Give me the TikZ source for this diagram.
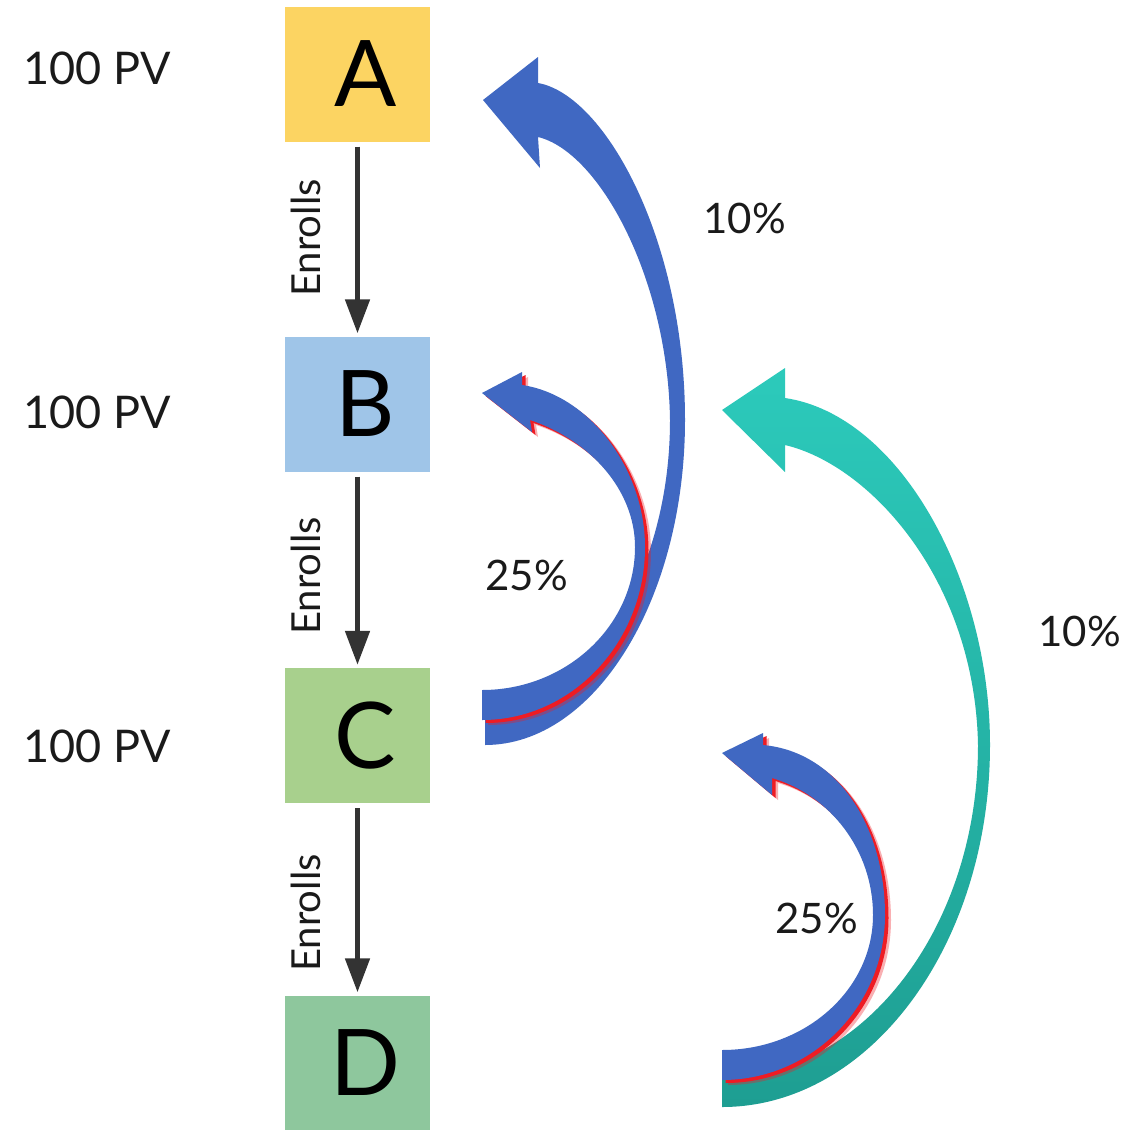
\documentclass[tikz,border=0pt]{standalone}
\usepackage{fontspec}
\setmainfont{Lato}
\usetikzlibrary{arrows.meta}
\definecolor{boxA}{HTML}{FCD462}
\definecolor{boxB}{HTML}{9FC5E8}
\definecolor{boxC}{HTML}{A8D08D}
\definecolor{boxD}{HTML}{8EC79D}
\definecolor{arrblue}{HTML}{4068C2}
\definecolor{arrred}{HTML}{EE1C24}
\definecolor{tealA}{HTML}{2CCABB}
\definecolor{tealB}{HTML}{1E9E92}
\definecolor{dk}{HTML}{333333}
\definecolor{txt}{HTML}{1A1A1A}
\def\curvA{(485,745) .. controls (595,745) and (685,599) .. (685,420) .. controls (685,240) and (605,95) .. (538,83) -- (538,57) -- (483,100) -- (540,168) -- (538,137) .. controls (600,152) and (668,280) .. (670,420) .. controls (670,577) and (587,705) .. (485,705) -- cycle}
\def\curvB{(482,720) .. controls (572,720) and (645,642) .. (645,547) .. controls (645,470) and (590,395) .. (522,385) -- (522,372) -- (482,393) -- (532,432) -- (530,420) .. controls (590,440) and (635,490) .. (635,547) .. controls (635,626) and (566,690) .. (482,690) -- cycle}
\def\curvC{(722,1107) .. controls (870,1107) and (990,945) .. (990,745) .. controls (990,580) and (900,415) .. (785,398) -- (785,368) -- (722,410) -- (785,472) -- (785,445) .. controls (870,465) and (975,580) .. (978,745) .. controls (978,928) and (863,1077) .. (722,1077) -- cycle}
\def\curvD{(722,1080) .. controls (812,1080) and (885,1006) .. (885,915) .. controls (885,830) and (840,752) .. (763,745) -- (763,733) -- (722,753) -- (772,795) -- (772,778) .. controls (830,795) and (873,850) .. (873,915) .. controls (873,990) and (805,1050) .. (722,1050) -- cycle}
\begin{document}
\begin{tikzpicture}[x=1pt,y=-1pt,
  box/.style={minimum width=145pt, minimum height=135pt, inner sep=0pt, text=black, font=\fontsize{92}{92}\selectfont},
  pv/.style={anchor=base west, text=txt, font=\fontsize{45}{45}\selectfont},
  enr/.style={rotate=90, anchor=base, text=txt, font=\fontsize{40}{40}\selectfont},
  pct/.style={anchor=base west, text=txt, font=\fontsize{42}{42}\selectfont},
  flow/.style={draw=dk, line width=5pt, -{Triangle[length=34pt,width=24pt]}, shorten >=3pt, shorten <=5pt},
  glowfar/.style={fill=arrred, opacity=0.35},
  glownear/.style={fill=arrred}]
\useasboundingbox (0,0) rectangle (1127,1130);
\fill[white] (0,0) rectangle (1127,1130);
% boxes
\node[box, fill=boxA] (A) at (357.5,74) {\hspace*{16pt}A};
\node[box, fill=boxB] (B) at (357.5,404) {\hspace*{16pt}B};
\node[box, fill=boxC] (C) at (357.5,735.5) {\hspace*{16pt}C};
\node[box, fill=boxD] (D) at (357.5,1063) {\hspace*{16pt}D};
% enroll arrows
\draw[flow] (A) -- (B);
\draw[flow] (B) -- (C);
\draw[flow] (C) -- (D);
\node[enr] (e1) at (320,238) {Enrolls};
\node[enr] (e2) at (320,576) {Enrolls};
\node[enr] (e3) at (320,913) {Enrolls};
% PV labels
\node[pv] (pvA) at (20,84) {100 PV};
\node[pv] (pvB) at (20,428) {100 PV};
\node[pv] (pvC) at (20,762) {100 PV};
% curved arrows
\fill[arrblue] \curvA;
\fill[glowfar, shift={(6,5)}] \curvB;
\fill[glownear, shift={(3.5,3)}] \curvB;
\fill[arrblue] \curvB;
\shade[top color=tealA, middle color=tealA, bottom color=tealB] \curvC;
\fill[glowfar, shift={(6,5)}] \curvD;
\fill[glownear, shift={(3.5,3)}] \curvD;
\fill[arrblue] \curvD;
% percentages
\node[pct] (p1) at (700,233) {10\%};
\node[pct] (p2) at (482,590) {25\%};
\node[pct] (p3) at (1035,646) {10\%};
\node[pct] (p4) at (772,933) {25\%};
\end{tikzpicture}
\end{document}
